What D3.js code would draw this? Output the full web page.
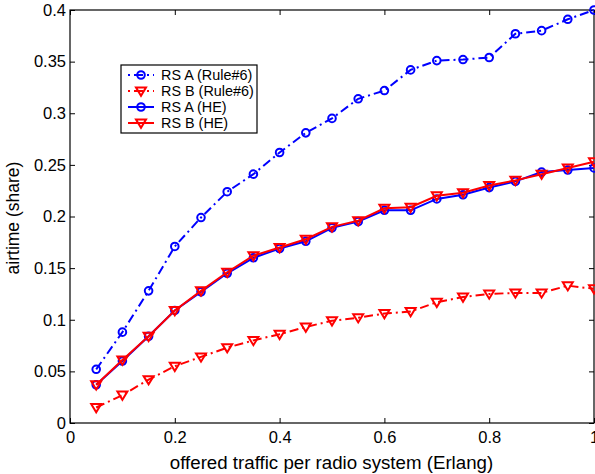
<!DOCTYPE html>
<html>
<head>
<meta charset="utf-8">
<script src="https://cdn.jsdelivr.net/npm/d3@7"></script>
<style>
	body { margin: 0; background: #fff; }
	svg { font-family: Arial, "Liberation Sans", Helvetica, sans-serif; }
</style>
</head>
<body>
<svg id="chart" width="595" height="474"></svg>
<script>
'use strict';

// offered traffic per radio system (Erlang)
const traffic = [0.05,0.1,0.15,0.2,0.25,0.3,0.35,0.4,0.45,0.5,0.55,0.6,0.65,0.7,0.75,0.8,0.85,0.9,0.95,1.0];

const rsARule6 = [0.052,0.088,0.128,0.171,0.199,0.224,0.241,0.262,0.281,0.295,0.314,0.322,0.342,0.351,0.352,0.354,0.377,0.380,0.391,0.400];
const rsBRule6 = [0.015,0.027,0.042,0.055,0.064,0.073,0.080,0.086,0.093,0.099,0.102,0.106,0.108,0.117,0.122,0.125,0.126,0.126,0.133,0.130];
const rsAHE    = [0.037,0.060,0.084,0.109,0.127,0.145,0.160,0.169,0.176,0.189,0.195,0.206,0.206,0.217,0.221,0.228,0.234,0.243,0.245,0.247];
const rsBHE    = [0.037,0.061,0.084,0.109,0.128,0.146,0.162,0.170,0.178,0.190,0.196,0.208,0.209,0.220,0.223,0.230,0.235,0.241,0.247,0.253];

const xTicks = [0,0.2,0.4,0.6,0.8,1];
const yTicks = [0,0.05,0.1,0.15,0.2,0.25,0.3,0.35,0.4];

const seriesNames = ['RS A (Rule#6)','RS B (Rule#6)','RS A (HE)','RS B (HE)'];

const margin = {left: 70, top: 10, right: 1, bottom: 51};
const width = 595 - margin.left - margin.right;
const height = 474 - margin.top - margin.bottom;

const series = [
	{name: seriesNames[0], values: rsARule6, colour: 'blue', dash: '9,4,2,4', marker: 'circle'},
	{name: seriesNames[1], values: rsBRule6, colour: 'red',  dash: '9,4,2,4', marker: 'triangle'},
	{name: seriesNames[2], values: rsAHE,    colour: 'blue', dash: null,      marker: 'circle'},
	{name: seriesNames[3], values: rsBHE,    colour: 'red',  dash: null,      marker: 'triangle'},
];

let svg = d3.select('#chart');
let g = svg.append('g').attr('transform', `translate(${margin.left},${margin.top})`);

let x = d3.scaleLinear().domain([0,1]).range([0,width]);
let y = d3.scaleLinear().domain([0,0.4]).range([height,0]);

// axes, MATLAB style: ticks inward, box all round
const fmt = d => d === 0 ? '0' : (d === 1 ? '1' : String(d));
g.append('g').attr('transform', `translate(0,${height})`)
	.call(d3.axisBottom(x).tickValues(xTicks).tickFormat(fmt).tickSizeInner(-5).tickSizeOuter(0).tickPadding(8));
g.append('g')
	.call(d3.axisLeft(y).tickValues(yTicks).tickFormat(fmt).tickSizeInner(-5).tickSizeOuter(0).tickPadding(4));
g.append('g')
	.call(d3.axisTop(x).tickValues(xTicks).tickFormat('').tickSizeInner(-5).tickSizeOuter(0));
g.append('g').attr('transform', `translate(${width},0)`)
	.call(d3.axisRight(y).tickValues(yTicks).tickFormat('').tickSizeInner(-5).tickSizeOuter(0));
g.append('rect')
	.attr('width', width).attr('height', height)
	.attr('fill', 'none').attr('stroke', 'black').attr('stroke-width', 1.2);

g.selectAll('.domain').remove();
g.selectAll('.tick line').attr('stroke', 'black');
g.selectAll('.tick text').attr('font-size', 16.5).attr('fill', 'black');

// axis titles
svg.append('text')
	.attr('x', margin.left + width/2 - 0.5).attr('y', 469)
	.attr('text-anchor', 'middle').attr('font-size', 18.7)
	.text('offered traffic per radio system (Erlang)');
svg.append('text')
	.attr('transform', `translate(19,218) rotate(-90)`)
	.attr('text-anchor', 'middle').attr('font-size', 17.5)
	.text('airtime (share)');

function drawMarker(sel, s, cx, cy){
	if(s.marker === 'circle'){
		sel.append('circle')
			.attr('cx', cx).attr('cy', cy).attr('r', 3.8)
			.attr('fill', 'none').attr('stroke', s.colour).attr('stroke-width', 2);
	}
	else{
		let r = 5;
		sel.append('path')
			.attr('d', `M${cx-r},${cy-r*0.7}L${cx+r},${cy-r*0.7}L${cx},${cy+r*0.95}Z`)
			.attr('fill', 'none').attr('stroke', s.colour).attr('stroke-width', 2)
			.attr('stroke-linejoin', 'miter');
	}
}

let line = d3.line().x((d,i) => x(traffic[i])).y(d => y(d));

series.forEach(s=>{
	let sg = g.append('g');
	sg.append('path')
		.attr('d', line(s.values))
		.attr('fill', 'none')
		.attr('stroke', s.colour)
		.attr('stroke-width', 2)
		.attr('stroke-dasharray', s.dash);
	s.values.forEach((v,i)=>{
		drawMarker(sg, s, x(traffic[i]), y(v));
	});
});

// legend
let legend = svg.append('g').attr('transform', 'translate(121,65)');
legend.append('rect')
	.attr('width', 136).attr('height', 68)
	.attr('fill', 'white').attr('stroke', 'black').attr('stroke-width', 1.2);
series.forEach((s,i)=>{
	let ly = 10 + i*16;
	legend.append('line')
		.attr('x1', 7).attr('x2', 33).attr('y1', ly).attr('y2', ly)
		.attr('stroke', s.colour).attr('stroke-width', 2)
		.attr('stroke-dasharray', s.dash ? '2,4,9,4' : null);
	drawMarker(legend, s, 20, ly);
	legend.append('text')
		.attr('x', 40).attr('y', ly).attr('dy', '0.36em')
		.attr('font-size', 14.4)
		.text(s.name);
});
</script>
</body>
</html>
